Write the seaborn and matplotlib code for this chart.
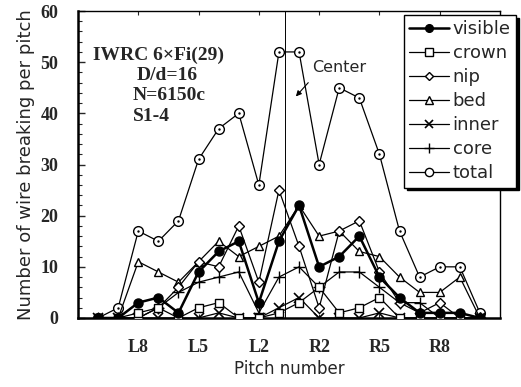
import matplotlib
matplotlib.use("Agg")
import matplotlib.pyplot as plt
import seaborn as sns
import numpy as np
import pandas as pd
from matplotlib.lines import Line2D

pitches = ["L10", "L9", "L8", "L7", "L6", "L5", "L4", "L3", "L2", "L1",
           "R1", "R2", "R3", "R4", "R5", "R6", "R7", "R8", "R9", "R10"]
visible = [0, 0, 3, 4, 1, 9, 13, 15, 3, 15, 22, 10, 12, 16, 8, 4, 1, 1, 1, 0]
crown = [0, 0, 1, 2, 0, 2, 3, 0, 0, 1, 3, 6, 1, 2, 4, 0, 0, 0, 0, 0]
nip = [0, 0, 0, 2, 6, 11, 10, 18, 7, 25, 14, 2, 17, 19, 9, 3, 1, 3, 0, 0]
bed = [0, 0, 11, 9, 7, 11, 15, 12, 14, 16, 22, 16, 17, 13, 12, 8, 5, 5, 8, 0]
inner = [0, 0, 0, 0, 0, 0, 1, 0, 0, 2, 4, 0, 0, 0, 1, 0, 0, 0, 0, 0]
core = [0, 0, 0, 2, 5, 7, 8, 9, 1, 8, 10, 6, 9, 9, 6, 3, 3, 0, 0, 0]
total = [0, 2, 17, 15, 19, 31, 37, 40, 26, 52, 52, 30, 45, 43, 32, 17, 8, 10, 10, 1]

tick_labels = ["L8", "L5", "L2", "R2", "R5", "R8"]
series_names = ["visible", "crown", "nip", "bed", "inner", "core", "total"]
series_vals = [visible, crown, nip, bed, inner, core, total]

idx = np.arange(len(pitches))
df = pd.DataFrame({"idx": idx})
for n, v in zip(series_names, series_vals):
    df[n] = v

sns.set_theme(style="white")
plt.rcParams['font.family'] = ['DejaVu Sans']

fig = plt.figure(figsize=(5.21, 3.87), dpi=100)
ax = fig.add_axes([78/521, 1-318/387, (500-78)/521, (318-11)/387])

styles = {
    "visible": dict(marker="o", mfc="black", mec="black", ms=6.5, lw=1.8),
    "crown": dict(marker="s", mfc="white", mec="black", ms=6, lw=0.9),
    "nip": dict(marker="D", mfc="white", mec="black", ms=5, lw=0.9),
    "bed": dict(marker="^", mfc="white", mec="black", ms=6, lw=0.9),
    "inner": dict(marker="x", mfc="black", mec="black", ms=7, lw=0.9, mew=1.2),
    "core": dict(marker="+", mfc="black", mec="black", ms=9, lw=0.9, mew=1.0),
    "total": dict(marker="o", mfc="white", mec="black", ms=7, lw=0.9),
}

order = ["total", "core", "inner", "bed", "nip", "crown", "visible"]
for n in order:
    st = styles[n]
    sns.lineplot(data=df, x="idx", y=n, ax=ax, color="black", legend=False,
                 marker=st["marker"], markerfacecolor=st["mfc"],
                 markeredgecolor=st["mec"], markersize=st["ms"],
                 linewidth=st["lw"], markeredgewidth=st.get("mew", 1.0),
                 zorder=3)
# dots in the centre of the "total" circles
sns.scatterplot(data=df, x="idx", y="total", ax=ax, color="black", s=3,
                linewidth=0, zorder=4, legend=False)

ax.set_xlim(-1, 20)
ax.set_ylim(0, 60)

pos = [pitches.index(t) for t in tick_labels]
ax.set_xticks(pos)
ax.set_xticklabels(tick_labels, family="Liberation Serif", fontweight="bold", fontsize=13)
ax.set_yticks(np.arange(0, 61, 10))
ax.set_yticklabels([str(v) for v in range(0, 61, 10)], family="Liberation Serif",
                   fontweight="bold", fontsize=13)
ax.set_yticks(np.arange(0, 61, 2), minor=True)
ax.tick_params(axis="y", which="major", direction="in", length=5, width=1.0, left=True, pad=14)
ax.tick_params(axis="y", which="minor", direction="in", length=3, width=0.8, left=True)
ax.tick_params(axis="x", which="major", direction="in", length=3, width=0.8, bottom=True, top=True, pad=15)

ax.set_xlabel("Pitch number", fontsize=12, labelpad=3)
ax.set_ylabel("Number of wire breaking per pitch", fontsize=13, labelpad=4)

for s in ax.spines.values():
    s.set_color("black")
    s.set_linewidth(1.0)
ax.spines["left"].set_linewidth(1.8)
ax.spines["bottom"].set_linewidth(1.8)

# center line
ax.axvline(9.3, color="black", lw=0.7, zorder=2)
ax.annotate("", xy=(9.75, 42.9), xytext=(10.55, 46.4),
            arrowprops=dict(arrowstyle="-|>", color="black", lw=0.8, mutation_scale=8))
ax.text(12.0, 49.0, "Center", fontsize=11.5, ha="center", va="center")

ax.text(-0.25, 51.3, "IWRC 6\u00d7Fi(29)", family="Liberation Serif", fontweight="bold",
        fontsize=14, ha="left", va="center")
ax.text(1.94, 47.4, "D/d=16", family="Liberation Serif", fontweight="bold",
        fontsize=14, ha="left", va="center")
ax.text(1.7, 43.5, "N=6150c", family="Liberation Serif", fontweight="bold",
        fontsize=14, ha="left", va="center")
ax.text(1.75, 39.4, "S1-4", family="Liberation Serif", fontweight="bold",
        fontsize=14, ha="left", va="center")

handles = []
for n in series_names:
    st = styles[n]
    handles.append(Line2D([0], [0], color="black", marker=st["marker"],
                          markerfacecolor=st["mfc"], markeredgecolor=st["mec"],
                          markersize=st["ms"] * 0.85, linewidth=st["lw"],
                          markeredgewidth=st.get("mew", 1.0)))
leg = ax.legend(handles, series_names, loc="upper right",
                bbox_to_anchor=(516/521, 1-15/387), bbox_transform=fig.transFigure,
                fontsize=13, frameon=True, fancybox=False, handlelength=2.2,
                handletextpad=0.2, labelspacing=0.33, borderpad=0.3,
                borderaxespad=0, shadow={"color": "black", "alpha": 1})
leg.get_frame().set_edgecolor("black")
leg.get_frame().set_linewidth(1.0)
leg.set_zorder(10)

fig.savefig("out.png", dpi=100)
